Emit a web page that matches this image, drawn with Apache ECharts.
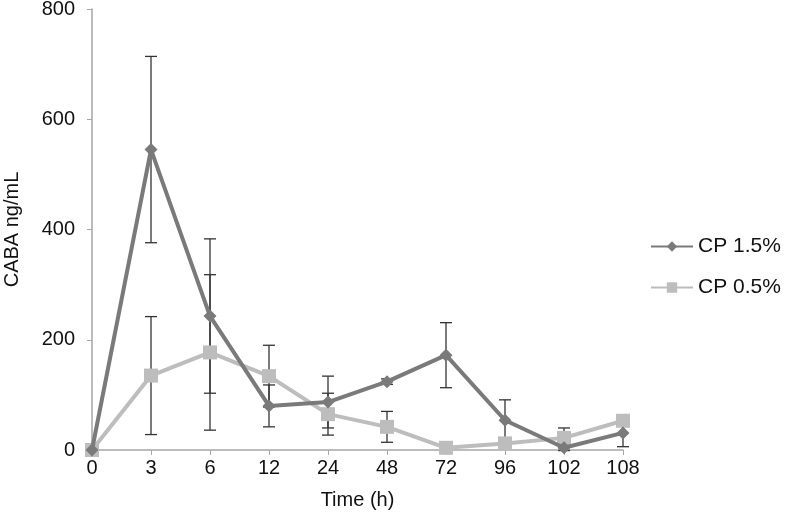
<!DOCTYPE html>
<html>
<head>
<meta charset="utf-8">
<script src="https://cdn.jsdelivr.net/npm/echarts@6/dist/echarts.min.js"></script>
<style>html,body{margin:0;padding:0;background:#fff}#c{width:785px;height:523px}</style>
</head>
<body>
<div id="c"></div>
<script>
const categories = ['0','3','6','12','24','48','72','96','102','108'];
const cp15 = [0, 545, 243, 80, 87, 124, 172, 54, 4, 31];
const cp15Err = [0, 169, 140, 38, 47, 5, 59, 37, 5, 25];
const cp05 = [0, 135, 177, 134, 65, 42, 4, 12, 22, 53];
const cp05Err = [0, 107, 141, 56, 38, 28, 2, 5, 18, 5];
const yTicks = [0, 200, 400, 600, 800];

const FONT = 'Liberation Sans, Arial, sans-serif';
const FS = 20;
const chart = echarts.init(document.getElementById('c'));

function errSeries(vals, errs, name) {
  return {
    type: 'custom',
    name: name + ' err',
    z: 1,
    silent: true,
    data: vals.map((v, i) => [i, v - errs[i], v + errs[i]]),
    renderItem: function (params, api) {
      const lo = api.coord([api.value(0), api.value(1)]);
      const hi = api.coord([api.value(0), api.value(2)]);
      const w = 6;
      const st = { stroke: '#333', lineWidth: 1.3 };
      return {
        type: 'group',
        children: [
          { type: 'line', shape: { x1: lo[0], y1: lo[1], x2: hi[0], y2: hi[1] }, style: st },
          { type: 'line', shape: { x1: hi[0] - w, y1: hi[1], x2: hi[0] + w, y2: hi[1] }, style: st },
          { type: 'line', shape: { x1: lo[0] - w, y1: lo[1], x2: lo[0] + w, y2: lo[1] }, style: st }
        ]
      };
    }
  };
}

chart.setOption({
  animation: false,
  backgroundColor: '#fff',
  textStyle: { fontFamily: FONT },
  grid: { left: 92, right: 162, top: 9, bottom: 73, containLabel: false, outerBoundsMode: 'none' },
  legend: {
    orient: 'vertical',
    left: 645,
    top: 231,
    itemGap: 20,
    itemWidth: 42,
    itemHeight: 13,
    textStyle: { fontSize: 21, color: '#111', fontFamily: FONT },
    data: ['CP 1.5%', 'CP 0.5%']
  },
  xAxis: {
    type: 'category',
    data: categories,
    boundaryGap: false,
    name: 'Time (h)',
    nameLocation: 'middle',
    nameGap: 40,
    nameTextStyle: { fontSize: FS, color: '#111', fontFamily: FONT },
    axisLine: { lineStyle: { color: '#a6a6a6', width: 1.5 } },
    axisTick: { show: true, alignWithLabel: true, length: 5, lineStyle: { color: '#a6a6a6' } },
    axisLabel: { fontSize: FS, color: '#111', margin: 8, fontFamily: FONT }
  },
  yAxis: {
    type: 'value',
    min: 0,
    max: 800,
    interval: 200,
    name: 'CABA ng/mL',
    nameLocation: 'middle',
    nameGap: 70,
    nameRotate: 90,
    nameTextStyle: { fontSize: FS, color: '#111', fontFamily: FONT },
    axisLine: { show: true, lineStyle: { color: '#a6a6a6', width: 1.5 } },
    axisTick: { show: true, length: 5, lineStyle: { color: '#a6a6a6' } },
    splitLine: { show: false },
    axisLabel: { fontSize: FS, color: '#111', margin: 17, fontFamily: FONT,
      formatter: v => yTicks.includes(v) ? String(v) : '' }
  },
  series: [
    errSeries(cp05, cp05Err, 'CP 0.5%'),
    errSeries(cp15, cp15Err, 'CP 1.5%'),
    {
      name: 'CP 1.5%',
      type: 'line',
      data: cp15,
      z: 3,
      symbol: 'diamond',
      symbolSize: 13,
      lineStyle: { color: '#7a7a7a', width: 4 },
      itemStyle: { color: '#7a7a7a' }
    },
    {
      name: 'CP 0.5%',
      type: 'line',
      data: cp05,
      z: 2,
      symbol: 'rect',
      symbolSize: 14,
      lineStyle: { color: '#bdbdbd', width: 4 },
      itemStyle: { color: '#bdbdbd' }
    }
  ]
});
</script>
</body>
</html>
